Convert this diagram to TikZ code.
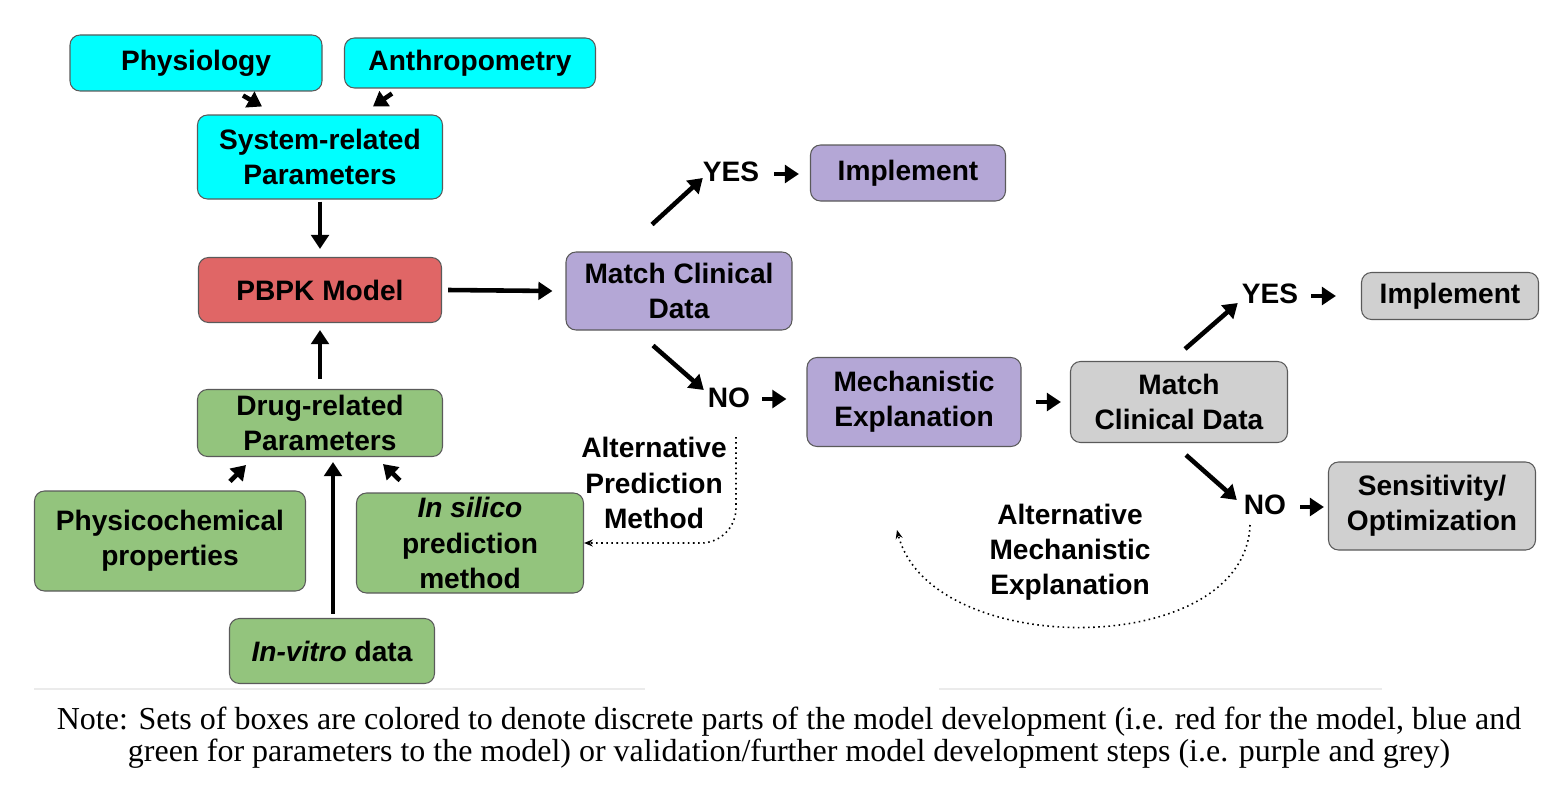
\documentclass[tikz,border=0pt]{standalone}
\usepackage{fontspec}
\setmainfont{Liberation Serif}
\setsansfont{Liberation Sans}
\usetikzlibrary{arrows.meta}
\definecolor{mycyan}{RGB}{0, 255, 255}
\definecolor{myred}{RGB}{224, 102, 102}
\definecolor{mygreen}{RGB}{147, 196, 125}
\definecolor{mypurple}{RGB}{180, 167, 214}
\definecolor{mygrey}{RGB}{208, 208, 208}
\definecolor{myborder}{RGB}{90, 90, 90}

\tikzset{
 box/.style={draw=myborder, line width=0.6pt, rounded corners=0.2cm, align=center,
  font=\sffamily\bfseries\fontsize{16}{20}\selectfont, inner sep=0pt},
 answer/.style={font=\sffamily\bfseries\fontsize{16}{20}\selectfont, inner sep=1pt},
 comment/.style={font=\sffamily\bfseries\fontsize{16}{20}\selectfont, align=center, inner sep=0pt},
 arr/.style={-{Triangle[length=8pt,width=10pt]}, line width=2.6pt},
 dots/.style={-{Stealth[length=5pt,width=4pt]}, line width=0.9pt, dotted}
}

\begin{document}
\begin{tikzpicture}[x=0.02cm, y=-0.02cm]

 \useasboundingbox (0,0) rectangle (1564,794);

 % parameters and model
 \node[box, fill=mycyan, minimum width=252*0.02cm, minimum height=56*0.02cm] (phys) at (196,63) {Physiology};
 \node[box, fill=mycyan, minimum width=251*0.02cm, minimum height=50*0.02cm] (anth) at (470,63) {Anthropometry};
 \node[box, fill=mycyan, minimum width=245*0.02cm, minimum height=84*0.02cm] (sys) at (320,157) {System-related\\Parameters};
 \node[box, fill=myred, minimum width=243*0.02cm, minimum height=65*0.02cm] (pbpk) at (320,290) {PBPK Model};
 \node[box, fill=mygreen, minimum width=245*0.02cm, minimum height=67*0.02cm] (drug) at (320,423) {Drug-related\\Parameters};
 \node[box, fill=mygreen, minimum width=271*0.02cm, minimum height=100*0.02cm] (chem) at (170,541) {Physicochemical\\properties};
 \node[box, fill=mygreen, minimum width=227*0.02cm, minimum height=100*0.02cm] (silico) at (470,543) {\itshape In silico\\prediction\\method};
 \node[box, fill=mygreen, minimum width=205*0.02cm, minimum height=65*0.02cm] (vitro) at (332,651) {\itshape In-vitro\upshape{} data};

 % validation steps
 \node[box, fill=mypurple, minimum width=226*0.02cm, minimum height=78*0.02cm] (match1) at (679,291) {Match Clinical\\Data};
 \node[box, fill=mypurple, minimum width=195*0.02cm, minimum height=56*0.02cm] (impl1) at (908,173) {Implement};
 \node[box, fill=mypurple, minimum width=214*0.02cm, minimum height=89*0.02cm] (mech) at (914,402) {Mechanistic\\Explanation};
 \node[box, fill=mygrey, minimum width=217*0.02cm, minimum height=81*0.02cm] (match2) at (1179,402) {Match\\Clinical Data};
 \node[box, fill=mygrey, minimum width=177*0.02cm, minimum height=47*0.02cm] (impl2) at (1450,296) {Implement};
 \node[box, fill=mygrey, minimum width=207*0.02cm, minimum height=88*0.02cm] (sens) at (1432,506) {Sensitivity/\\Optimization};

 \node[answer] (yes1) at (731,172) {YES};
 \node[answer] (no1) at (729,398) {NO};
 \node[answer] (yes2) at (1270,294) {YES};
 \node[answer] (no2) at (1265,505) {NO};

 \node[comment] (apm) at (654,483) {Alternative\\Prediction\\Method};
 \node[comment] (ame) at (1070,552) {Alternative\\Mechanistic\\Explanation};

 \coordinate (apmstart) at (736,437);
 \coordinate (amestart) at (1250,525);
 \coordinate (ameend) at (897,530);

 \draw[arr] ([shift={(47,4)}]phys.south) -- ([shift={(-58,-8)}]sys.north);
 \draw[arr] ([shift={(-78,5)}]anth.south) -- ([shift={(53,-8)}]sys.north);
 \draw[arr] ([shift={(0,2)}]sys.south) -- ([shift={(0,-8)}]pbpk.north);
 \draw[arr] ([shift={(6,0)}]pbpk.east) -- ([shift={(-13,0)}]match1.west);
 \draw[arr] ([shift={(0,-10)}]drug.north) -- ([shift={(0,7)}]pbpk.south);
 \draw[arr] ([shift={(60,-9)}]chem.north) -- ([shift={(-74,8)}]drug.south);
 \draw[arr] ([shift={(1,-4)}]vitro.north) -- ([shift={(13,5)}]drug.south);
 \draw[arr] ([shift={(-70,-12)}]silico.north) -- ([shift={(63,7)}]drug.south);

 \draw[arr] ([shift={(-27,-27)}]match1.north) -- ([shift={(2,6)}]yes1.west);
 \draw[arr] ([shift={(13,2)}]yes1.east) -- ([shift={(-11,1)}]impl1.west);
 \draw[arr] ([shift={(-26,15)}]match1.south) -- ([shift={(-2,-8)}]no1.west);
 \draw[arr] ([shift={(10,1)}]no1.east) -- ([shift={(-20,-3)}]mech.west);
 \draw[arr] ([shift={(14,0)}]mech.east) -- ([shift={(-9,0)}]match2.west);
 \draw[arr] ([shift={(6,-12)}]match2.north) -- ([shift={(-2,9)}]yes2.west);
 \draw[arr] ([shift={(11,2)}]yes2.east) -- ([shift={(-25,0)}]impl2.west);
 \draw[arr] ([shift={(7,12)}]match2.south) -- ([shift={(-5,-5)}]no2.west);
 \draw[arr] ([shift={(12,2)}]no2.east) -- ([shift={(-4,1)}]sens.west);

 \draw[dots, rounded corners=0.7cm] (apmstart) |- (silico.east);
 \draw[dots] (amestart) .. controls (1245,660) and (930,660) .. (ameend);

 \draw[black!8, line width=0.6pt] (34,689) -- (645,689);
 \draw[black!8, line width=0.6pt] (939,689) -- (1382,689);

 \node[align=center, font=\fontsize{18.2}{18.4}\selectfont, inner sep=0pt] (note) at (789,738)
  {Note: Sets of boxes are colored to denote discrete parts of the model development (i.e. red for the model, blue and\\
   green for parameters to the model) or validation/further model development steps (i.e. purple and grey)};

\end{tikzpicture}
\end{document}
